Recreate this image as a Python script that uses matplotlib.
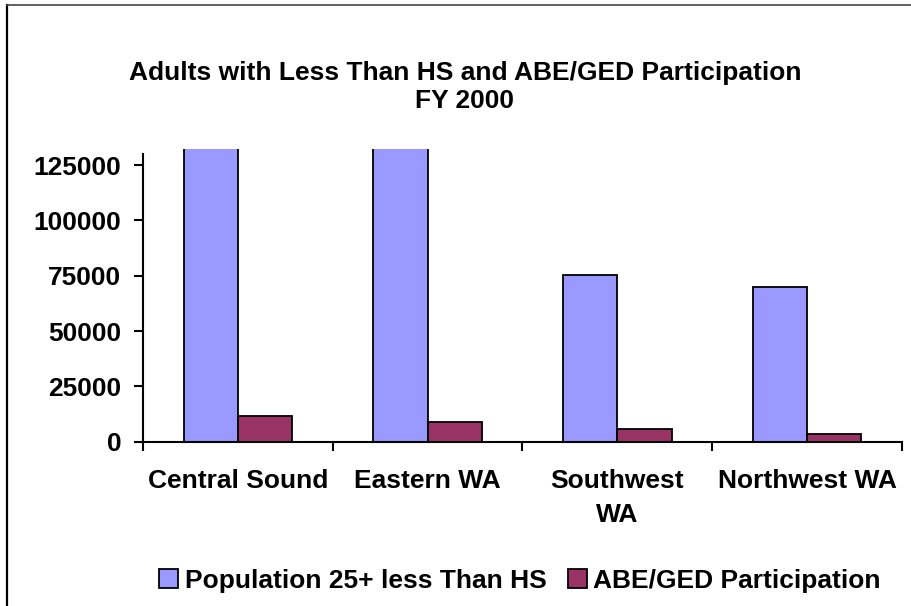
import matplotlib
matplotlib.use("Agg")
import matplotlib.pyplot as plt
from matplotlib.lines import Line2D
import numpy as np

plt.rcParams['font.family'] = ['Liberation Sans', 'DejaVu Sans']
plt.rcParams['font.weight'] = 'bold'

regions = ["Central Sound", "Eastern WA", "Southwest\nWA", "Northwest WA"]
population_no_hs = [259000, 139000, 75500, 70000]
abe_ged = [11600, 9000, 5900, 3500]
series_names = ["Population 25+ less Than HS", "ABE/GED Participation"]
yticks = [0, 25000, 50000, 75000, 100000, 125000]

FS = 19

fig = plt.figure(figsize=(9.12, 6.06), dpi=100)
ax = fig.add_axes([143 / 912, 164.3 / 606, 759 / 912, 292.7 / 606])

x = np.arange(len(regions))
w = 1 / 3.5  # excel gap width 150%
ax.bar(x - w / 2, population_no_hs, w, color="#9999FF", edgecolor="black",
       linewidth=1.3, label=series_names[0])
ax.bar(x + w / 2, abe_ged, w, color="#993366", edgecolor="black",
       linewidth=1.3, label=series_names[1])

ax.set_xlim(-0.5, len(regions) - 0.5)
ax.set_ylim(0, 132300)
ax.spines['left'].set_bounds(0, 130000)
for s in ['top', 'right']:
    ax.spines[s].set_visible(False)
for s in ['left', 'bottom']:
    ax.spines[s].set_linewidth(1.5)

ax.set_yticks(yticks)
ax.set_yticklabels([str(v) for v in yticks])
ax.set_xticks(np.arange(len(regions) + 1) - 0.5)
ax.set_xticklabels([])
ax.set_xticks(x, minor=True)
ax.set_xticklabels(regions, minor=True, ha='center', fontsize=FS, linespacing=1.5)
ax.tick_params(axis='x', which='minor', length=0, pad=20)
ax.tick_params(axis='both', which='major', direction='out', length=6.5, width=1.5)
ax.tick_params(axis='y', labelsize=FS, pad=9)

fig.text(465 / 912, 1 - 87 / 606, "Adults with Less Than HS and ABE/GED Participation\nFY 2000",
         ha='center', va='center', fontsize=FS, fontweight='bold', linespacing=1.2)

fig.legend(loc='center', bbox_to_anchor=(520 / 912, 1 - 581 / 606), ncol=2, frameon=False,
           fontsize=FS, handlelength=0.72, handleheight=0.72, handletextpad=0.25,
           columnspacing=0.8, borderaxespad=0)

# chart area frame (left and top edges only)
fig.add_artist(Line2D([7.5 / 912, 7.5 / 912], [0, 1 - 5 / 606], transform=fig.transFigure,
                      color='black', linewidth=1.6))
fig.add_artist(Line2D([7.5 / 912, 1], [1 - 5 / 606, 1 - 5 / 606], transform=fig.transFigure,
                      color='#444444', linewidth=1.2))

fig.savefig("out.png", dpi=100, facecolor='white')
